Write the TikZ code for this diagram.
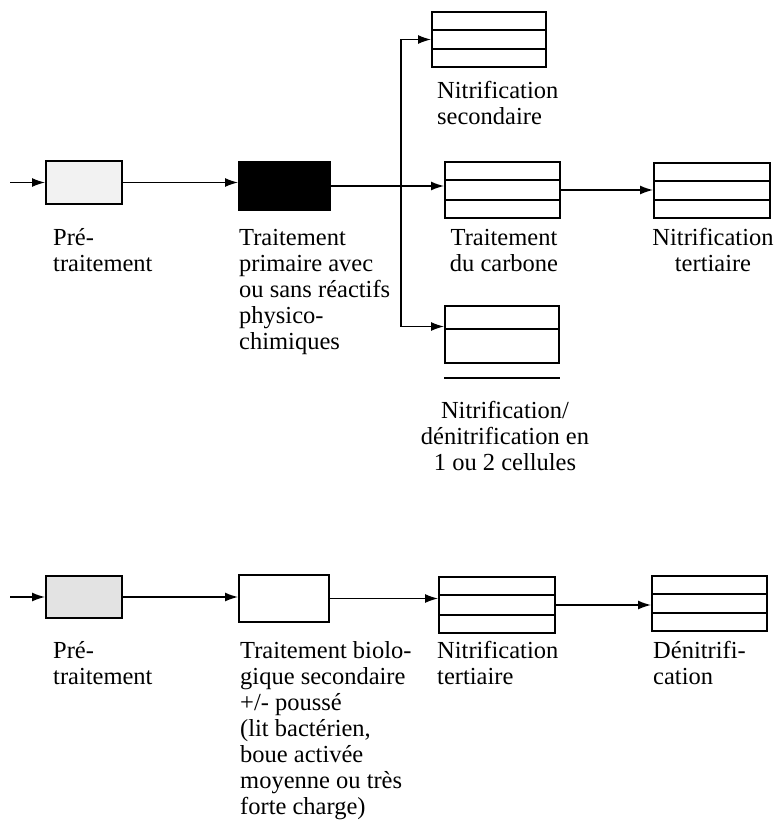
\documentclass[tikz,border=0pt]{standalone}
\usepackage{fontspec}
\setmainfont{Liberation Serif}
\usetikzlibrary{arrows.meta,calc}
\tikzset{
  bac/.style={draw, line width=2pt, inner sep=0pt, minimum width=#1},
  bac/.default=115pt,
  tri/.style={bac, minimum height=55pt},
  lbl/.style={inner sep=0pt, align=left, anchor=base west, font=\fontsize{24.5}{26}\selectfont},
  lblc/.style={lbl, align=center, anchor=base},
  flux/.style={line width=1.4pt}
}
\begin{document}
\begin{tikzpicture}[x=1pt, y=-1pt, >={Latex[length=13pt,width=9pt]}]
\useasboundingbox (0,0) rectangle (779,838);
% filiere du haut
\coordinate (in1) at (10,182.5);
\node[bac=76pt, minimum height=43pt, fill=gray!10] (pre1) at (84,182.5) {};
\node[bac=91pt, minimum height=48pt, fill=black] (prim) at (284.5,186) {};
\coordinate (split) at (401,186);
\node[tri, minimum width=114pt] (nsec) at (489,39.5) {};
\node[tri, minimum height=56pt] (carb) at (502.5,190) {};
\node[tri, minimum width=116pt] (tert1) at (712,190.5) {};
\node[tri, minimum width=114pt, minimum height=57pt] (nden) at (502,334.5) {};
\draw[flux,->] (in1) -- (pre1.west);
\draw[flux,->] (pre1.east) -- (pre1.east -| prim.west);
\draw[flux] (prim.east) -- (split);
\draw[flux,->] (split) -- (split -| carb.west);
\draw[flux,->] (split) |- (nsec.west);
\draw[flux,->] (split) |- ([yshift=8pt]nden.west);
\draw[flux,->] (carb.east) -- (carb.east -| tert1.west);
\draw[line width=2pt] ([yshift=-24pt]nden.north west) -- ([yshift=-24pt]nden.north east);
\draw[line width=2pt] ([yshift=-14pt]nden.south west) -- ([yshift=-14pt]nden.south east);
\node[lbl] (lpre1) at (53,271) {Pré-\\traitement};
\node[lbl] (lprim) at (239,349) {Traitement\\primaire avec\\ou sans réactifs\\physico-\\chimiques};
\node[lbl] (lnsec) at (437,124) {Nitrification\\secondaire};
\node[lblc] (lcarb) at (504,271) {Traitement\\du carbone};
\node[lblc] (ltert1) at (713,271) {Nitrification\\tertiaire};
\node[lblc] (lnden) at (505,470) {Nitrification/\\dénitrification en\\1 ou 2 cellules};
% filiere du bas
\coordinate (in2) at (10,597);
\node[bac=76pt, minimum height=42pt, fill=gray!22] (pre2) at (84,597) {};
\node[bac=90pt, minimum height=47pt] (bio) at (284,598.5) {};
\node[tri, minimum width=116pt, minimum height=56pt] (tert2) at (497,605) {};
\node[tri] (denit) at (709.5,603.5) {};
\draw[flux,->] (in2) -- (pre2.west);
\draw[flux,->] (pre2.east) -- (pre2.east -| bio.west);
\draw[flux,->] (bio.east) -- (bio.east -| tert2.west);
\draw[flux,->] (tert2.east) -- (tert2.east -| denit.west);
\node[lbl] (lpre2) at (53,684) {Pré-\\traitement};
\node[lbl] (lbio) at (240,814) {Traitement biolo-\\gique secondaire\\+/- poussé\\(lit bactérien,\\boue activée\\moyenne ou très\\forte charge)};
\node[lbl] (ltert2) at (437,684) {Nitrification\\tertiaire};
\node[lbl] (ldenit) at (653,684) {Dénitrifi-\\cation};
\foreach \b in {nsec,carb,tert1,tert2,denit}
  \draw[line width=2pt] ($(\b.north west)!1/3!(\b.south west)$) -- ($(\b.north east)!1/3!(\b.south east)$)
    ($(\b.north west)!2/3!(\b.south west)$) -- ($(\b.north east)!2/3!(\b.south east)$);
\end{tikzpicture}
\end{document}
